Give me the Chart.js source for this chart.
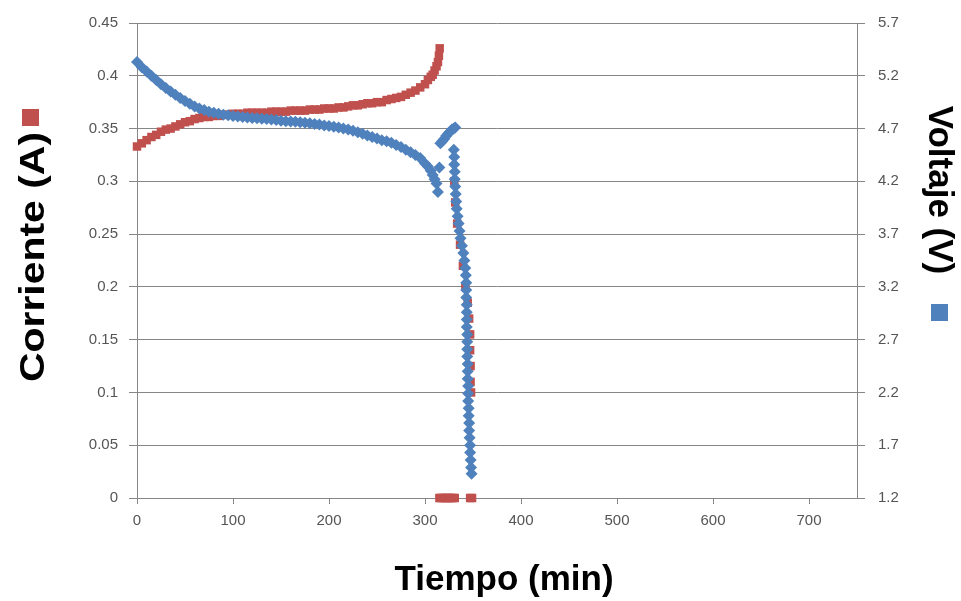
<!DOCTYPE html>
<html>
<head>
<meta charset="utf-8">
<title>Corriente y voltaje vs tiempo</title>
<script src="https://cdn.jsdelivr.net/npm/chart.js@4.4.1/dist/chart.umd.min.js"></script>
<style>
    html, body { margin: 0; padding: 0; background: #fff; }
    #wrap { width: 961px; height: 601px; position: relative; }
</style>
</head>
<body>
<div id="wrap"><canvas id="grafica"></canvas></div>
<script>
// Corriente (A) vs tiempo (min)
const tiempoCorriente = [
    0, 5, 10, 15, 20, 25, 30, 35, 40, 45, 50, 55, 60, 65, 70, 75, 80, 85, 90, 95,
    100, 105, 110, 115, 120, 125, 130, 135, 140, 145, 150, 155, 160, 165, 170, 175, 180, 185, 190, 195,
    200, 205, 210, 215, 220, 225, 230, 235, 240, 245, 250, 255, 260, 265, 270, 275, 280, 285, 290, 295,
    300, 303, 306, 308, 310, 312, 313.5, 314.5, 315.3,
    315, 317, 319, 321, 323, 325, 327, 329, 331, 347, 349,
    330.5, 331.5, 333.5, 336.5, 339.5, 342, 344.5, 346, 347, 347, 347.5, 347.5, 348,
];
const corriente = [
    0.333, 0.336, 0.339, 0.342, 0.344, 0.347, 0.349, 0.35, 0.352, 0.354,
    0.356, 0.357, 0.359, 0.36, 0.361, 0.361, 0.362, 0.362, 0.363, 0.363,
    0.364, 0.364, 0.364, 0.365, 0.365, 0.365, 0.365, 0.365, 0.366, 0.366,
    0.366, 0.366, 0.367, 0.367, 0.367, 0.367, 0.368, 0.368, 0.368, 0.369,
    0.369, 0.369, 0.37, 0.37, 0.371, 0.372, 0.372, 0.373, 0.374, 0.374,
    0.375, 0.375, 0.377, 0.378, 0.379, 0.38, 0.382, 0.384, 0.386, 0.389,
    0.392, 0.396, 0.399, 0.401, 0.405, 0.409, 0.413, 0.419, 0.426,
    0, 0, 0, 0, 0, 0, 0, 0, 0, 0, 0,
    0.3, 0.28, 0.26, 0.24, 0.22, 0.2, 0.185, 0.17, 0.155, 0.14, 0.125, 0.11, 0.1,
];

// Voltaje (V) vs tiempo (min)
const tiempoVoltaje = [
    0, 5, 10, 15, 20, 25, 30, 35, 40, 45, 50, 55, 60, 65, 70, 75, 80, 85, 90, 95,
    100, 105, 110, 115, 120, 125, 130, 135, 140, 145, 150, 155, 160, 165, 170, 175, 180, 185, 190, 195,
    200, 205, 210, 215, 220, 225, 230, 235, 240, 245, 250, 255, 260, 265, 270, 275, 280, 285, 290, 295,
    300, 303, 306, 308, 310, 312, 313.5, 315,
    316, 318, 320, 322, 324, 326, 328, 330, 331.5,
    330, 330.5, 330.5, 331, 331, 331.5, 332, 332.5, 333, 334, 335, 336, 337, 338.5, 340,
    341, 342, 342.5, 343, 343, 343, 343.5, 343.5, 343.5, 343.5, 344, 344, 344, 344, 344.5,
    344.5, 344.5, 345, 345, 345, 345.5, 345.5, 346, 346, 346.5, 347, 347, 347.5, 348, 348.5,
];
const voltaje = [
    5.33, 5.28, 5.24, 5.2, 5.16, 5.12, 5.085, 5.05, 5.02, 4.99,
    4.96, 4.935, 4.91, 4.89, 4.875, 4.86, 4.85, 4.84, 4.83, 4.825,
    4.82, 4.815, 4.81, 4.805, 4.8, 4.797, 4.794, 4.79, 4.785, 4.78,
    4.775, 4.77, 4.768, 4.764, 4.76, 4.755, 4.75, 4.744, 4.738, 4.73,
    4.725, 4.718, 4.71, 4.7, 4.69, 4.68, 4.665, 4.65, 4.635, 4.62,
    4.605, 4.59, 4.58, 4.565, 4.545, 4.525, 4.5, 4.475, 4.45, 4.42,
    4.37, 4.34, 4.3, 4.26, 4.22, 4.18, 4.1, 4.33,
    4.56, 4.58, 4.6, 4.63, 4.65, 4.67, 4.69, 4.7, 4.71,
    4.5, 4.43, 4.36, 4.29, 4.22, 4.15, 4.08, 4.01, 3.94, 3.87, 3.8, 3.73, 3.66, 3.59, 3.52,
    3.45, 3.38, 3.31, 3.24, 3.17, 3.1, 3.03, 2.96, 2.89, 2.82, 2.75, 2.68, 2.61, 2.54, 2.47,
    2.4, 2.33, 2.26, 2.19, 2.12, 2.05, 1.98, 1.91, 1.84, 1.77, 1.7, 1.63, 1.56, 1.49, 1.43,
];

const ticksTiempo = ['0', '100', '200', '300', '400', '500', '600', '700'];
const ticksCorriente = ['0', '0.05', '0.1', '0.15', '0.2', '0.25', '0.3', '0.35', '0.4', '0.45'];
const ticksVoltaje = ['1.2', '1.7', '2.2', '2.7', '3.2', '3.7', '4.2', '4.7', '5.2', '5.7'];

const rojo = '#c0504d';
const azul = '#4f81bd';
const gris = '#868686';
const fuenteTicks = { family: '"Liberation Sans", Arial, sans-serif', size: 15 };

function puntos(xs, ys) {
    return xs.map((x, i) => ({ x: x, y: ys[i] }));
}

// titulos de ejes con el cuadrito de leyenda al lado
const titulos = {
    id: 'titulos',
    afterDraw(chart) {
        const ctx = chart.ctx;
        ctx.save();
        ctx.fillStyle = '#000';
        ctx.font = 'bold 35px "Liberation Sans", Arial, sans-serif';
        ctx.textAlign = 'center';
        ctx.textBaseline = 'alphabetic';
        ctx.fillText('Tiempo (min)', 504, 590);

        ctx.save();
        ctx.translate(44, 257);
        ctx.rotate(-Math.PI / 2);
        const w = ctx.measureText('Corriente (A)').width;
        ctx.scale(250 / w, 1);
        ctx.fillText('Corriente (A)', 0, 0);
        ctx.restore();
        ctx.fillStyle = rojo;
        ctx.fillRect(22, 109, 17, 17);

        ctx.save();
        ctx.translate(929, 190);
        ctx.rotate(Math.PI / 2);
        ctx.fillStyle = '#000';
        ctx.fillText('Voltaje (V)', 0, 0);
        ctx.restore();
        ctx.fillStyle = azul;
        ctx.fillRect(931, 304, 17, 17);
        ctx.restore();
    },
};

new Chart(document.getElementById('grafica'), {
    type: 'scatter',
    data: {
        datasets: [
            {
                label: 'Voltaje (V)',
                data: puntos(tiempoVoltaje, voltaje),
                yAxisID: 'y1',
                pointStyle: 'rectRot',
                pointRadius: 6,
                pointBorderWidth: 0,
                backgroundColor: azul,
                borderColor: azul,
                clip: false,
                order: 0,
            },
            {
                label: 'Corriente (A)',
                data: puntos(tiempoCorriente, corriente),
                yAxisID: 'y',
                pointStyle: 'rect',
                pointRadius: 6,
                pointBorderWidth: 0,
                backgroundColor: rojo,
                borderColor: rojo,
                clip: false,
                order: 1,
            },
        ],
    },
    options: {
        responsive: true,
        maintainAspectRatio: false,
        animation: false,
        layout: { padding: { top: 23, left: 0, right: 0, bottom: 0 } },
        plugins: {
            legend: { display: false },
            tooltip: { enabled: false },
        },
        scales: {
            x: {
                type: 'linear',
                min: 0,
                max: 750,
                afterBuildTicks: (s) => {
                    s.ticks = s.ticks.filter((t) => t.value <= 700);
                },
                afterFit: (s) => {
                    s.height = 103;
                },
                ticks: {
                    stepSize: 100,
                    padding: 8,
                    maxRotation: 0,
                    color: '#555',
                    font: fuenteTicks,
                    callback: (v, i) => ticksTiempo[i],
                },
                grid: { drawOnChartArea: false, tickLength: 6, color: gris },
                border: { color: gris },
            },
            y: {
                position: 'left',
                min: 0,
                max: 0.45,
                afterFit: (s) => {
                    s.width = 137;
                },
                ticks: {
                    stepSize: 0.05,
                    padding: 11,
                    color: '#555',
                    font: fuenteTicks,
                    callback: (v, i) => ticksCorriente[i],
                },
                grid: { color: gris, tickLength: 8 },
                border: { color: gris },
            },
            y1: {
                position: 'right',
                min: 1.2,
                max: 5.7,
                afterFit: (s) => {
                    s.width = 104;
                },
                ticks: {
                    stepSize: 0.5,
                    padding: 13,
                    color: '#555',
                    font: fuenteTicks,
                    callback: (v, i) => ticksVoltaje[i],
                },
                grid: { drawOnChartArea: false, tickLength: 8, color: gris },
                border: { color: gris },
            },
        },
    },
    plugins: [titulos],
});
</script>
</body>
</html>
